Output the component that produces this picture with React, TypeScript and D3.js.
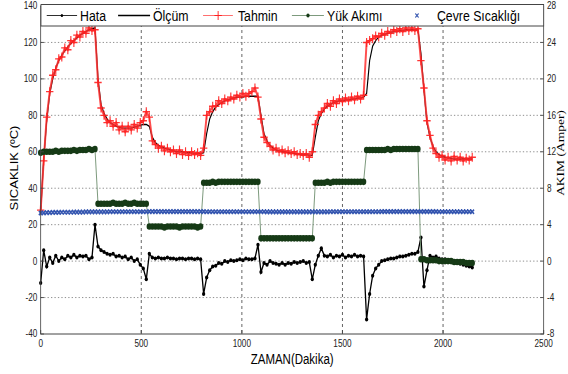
import React from 'react';
import * as d3 from 'd3';

// sampled every 15 min (Dakika)
const TIME = [
  0, 15, 30, 45, 60, 75, 90, 105, 120, 135,
  150, 165, 180, 195, 210, 225, 240, 255, 270, 285,
  300, 315, 330, 345, 360, 375, 390, 405, 420, 435,
  450, 465, 480, 495, 510, 525, 540, 555, 570, 585,
  600, 615, 630, 645, 660, 675, 690, 705, 720, 735,
  750, 765, 780, 795, 810, 825, 840, 855, 870, 885,
  900, 915, 930, 945, 960, 975, 990, 1005, 1020, 1035,
  1050, 1065, 1080, 1095, 1110, 1125, 1140, 1155, 1170, 1185,
  1200, 1215, 1230, 1245, 1260, 1275, 1290, 1305, 1320, 1335,
  1350, 1365, 1380, 1395, 1410, 1425, 1440, 1455, 1470, 1485,
  1500, 1515, 1530, 1545, 1560, 1575, 1590, 1605, 1620, 1635,
  1650, 1665, 1680, 1695, 1710, 1725, 1740, 1755, 1770, 1785,
  1800, 1815, 1830, 1845, 1860, 1875, 1890, 1905, 1920, 1935,
  1950, 1965, 1980, 1995, 2010, 2025, 2040, 2055, 2070, 2085,
  2100, 2115, 2130, 2145,
];

const OLCUM = [
  27, 56, 77, 92, 100, 106, 110, 113, 115.5, 117.5,
  119.5, 121, 122.5, 124, 125, 126, 127, 127.5, 128, 100,
  86, 81, 78, 76, 75, 74, 73.5, 73, 73, 73,
  73, 73.5, 74, 74.5, 75, 75, 74, 68, 65, 63.5,
  62.5, 62, 61.5, 61, 60.5, 60, 60, 60, 59.5, 59.5,
  59.5, 59, 59, 59, 59.5, 70, 78, 82, 84.5, 86,
  87, 88, 88.5, 89, 89.5, 90, 90, 90, 90.5, 90.5,
  90.5, 90.5, 90.5, 80, 70, 66, 63.5, 62, 61, 60.5,
  60, 60, 59.5, 59.5, 59, 59, 58.5, 58.5, 58.5, 58,
  58, 68, 77, 81, 83.5, 85, 86, 87, 87.5, 88,
  88, 88.5, 88.5, 89, 89, 89.5, 89.5, 90, 92, 110,
  118, 121, 123, 124, 124.5, 125, 125.5, 126, 126, 126.5,
  126.5, 127, 127, 127, 127, 127, 114, 94, 76, 68,
  63, 60, 58.5, 57.5, 57, 56.5, 56.5, 56, 56, 56,
  56, 56, 56, 56,
];

const TAHMIN = [
  28, 55, 79, 93, 102, 105, 111, 112, 117, 116,
  121, 120, 124, 123, 126, 125, 128, 126.5, 127, 98,
  84, 80, 76, 77, 74, 76, 72, 74, 71, 74,
  72, 75, 73, 76, 77, 82, 79, 66, 64, 62,
  63, 60.5, 62, 60, 61, 59, 61, 58.5, 60, 58,
  60, 58.5, 59.5, 58, 62, 80, 82, 85, 85, 88,
  86.5, 89, 88, 90, 89, 91, 90, 92, 90.5, 92,
  93, 95, 90, 78, 68, 65, 63, 61, 62, 60,
  61, 59.5, 60.5, 59, 60, 58.5, 59, 58, 59, 57,
  60, 75, 80, 82, 84, 86.5, 85, 88, 86.5, 89,
  87.5, 89.5, 88, 90, 88.5, 90.5, 89, 91, 120, 121,
  122, 123.5, 123, 125, 124, 126, 125, 127, 126, 127.5,
  126, 128, 126.5, 128, 126.5, 127.5, 110, 95, 77, 69,
  62, 59, 57, 58, 55.5, 57, 55, 57.5, 55.5, 57,
  55, 56.5, 55.5, 57,
];

const HATA = [
  -12, 6, -3, 2, -1, 3, 0, 2, 1, 3,
  2, 3.5, 2, 3, 2.5, 3, 1, 2, 20, 8,
  6, 5, 4, 3.5, 4, 2.5, 3, 2, 2.5, 1,
  2, 0, 1, -2, -4, -10, 4, 2, 1.5, 2,
  1.5, 1.5, 2, 1.5, 1.5, 1, 1.5, 1.5, 1, 1.5,
  1.5, 1, 1.5, 1, -18, -9, -5, -3, -2.5, -1,
  -1.5, 0, -0.5, 0.5, 0, 0.5, 1, 0.5, 1.5, 1,
  1, 1.5, 9, -6, -1, -2, 0, -1, -1.5, -2,
  -1, -2, -1, -1.5, -0.5, -1, -0.5, 0, -1, -0.5,
  -10, -2, 3, 7, 3, 2.5, 3.5, 2, 3, 2.5,
  3.5, 2, 3, 2.5, 3.5, 2.5, 3, 2.5, -32, -18,
  -8, -4, -2, 0, 0.5, 1, 1.5, 1.5, 2, 2.5,
  2.5, 3, 3.5, 4, 4, 5, 13, -14, -5, 3,
  2, 2.5, 1.5, 1, 1, 0.5, 0, -0.5, -1, -1.5,
  -2, -2.5, -3, -3.5,
];

// Amper, right axis
const AKIM = [
  11.9, 12, 12, 12, 12, 12.1, 12, 12.1, 12.1, 12.1,
  12.1, 12.2, 12.1, 12.2, 12.2, 12.2, 12.3, 12.2, 12.3, 6.3,
  6.3, 6.3, 6.3, 6.3, 6.4, 6.3, 6.3, 6.3, 6.4, 6.3,
  6.3, 6.4, 6.3, 6.3, 6.3, 6.3, 3.8, 3.8, 3.8, 3.8,
  3.8, 3.7, 3.8, 3.8, 3.8, 3.8, 3.7, 3.8, 3.8, 3.8,
  3.8, 3.8, 3.7, 3.8, 8.6, 8.6, 8.6, 8.7, 8.6, 8.7,
  8.7, 8.7, 8.7, 8.7, 8.7, 8.7, 8.7, 8.7, 8.7, 8.7,
  8.7, 8.7, 8.7, 2.5, 2.5, 2.5, 2.5, 2.5, 2.5, 2.5,
  2.5, 2.5, 2.5, 2.5, 2.5, 2.5, 2.5, 2.5, 2.5, 2.5,
  2.5, 8.6, 8.6, 8.6, 8.6, 8.7, 8.6, 8.7, 8.7, 8.7,
  8.7, 8.7, 8.7, 8.7, 8.7, 8.7, 8.7, 8.7, 12.2, 12.2,
  12.2, 12.2, 12.2, 12.2, 12.2, 12.3, 12.2, 12.3, 12.3, 12.3,
  12.3, 12.3, 12.3, 12.3, 12.3, 12.3, 0.2, 0.2, 0.1, 0.1,
  0.1, 0.1, 0, 0, 0, 0, 0, -0.1, -0.1, -0.1,
  -0.1, -0.2, -0.2, -0.2,
];

const CEVRE = [
  26.4, 26.5, 26.6, 26.6, 26.7, 26.7, 26.7, 26.8, 26.8, 26.8,
  26.8, 26.9, 26.9, 26.9, 26.9, 27, 27, 27, 27, 27,
  27, 27, 27, 27.1, 27.1, 27.1, 27.1, 27.1, 27.1, 27.1,
  27.1, 27.1, 27.1, 27.1, 27.1, 27.1, 27.2, 27.2, 27.2, 27.2,
  27.2, 27.2, 27.2, 27.2, 27.2, 27.2, 27.2, 27.2, 27.2, 27.2,
  27.2, 27.2, 27.2, 27.2, 27.2, 27.1, 27.1, 27.1, 27.1, 27.1,
  27.1, 27.1, 27.1, 27.1, 27.1, 27.1, 27.1, 27.1, 27.1, 27.1,
  27.1, 27.1, 27.1, 27.1, 27.1, 27, 27, 27, 27, 27,
  27, 27, 27, 27, 27, 27, 27, 27, 27, 27,
  27, 27, 27, 27, 27, 27, 27.1, 27.1, 27.1, 27.1,
  27.1, 27.1, 27.1, 27.1, 27.1, 27.1, 27.1, 27.1, 27.1, 27.1,
  27.1, 27.1, 27.1, 27.2, 27.2, 27.2, 27.2, 27.2, 27.2, 27.2,
  27.2, 27.2, 27.2, 27.2, 27.2, 27.2, 27.2, 27.2, 27.2, 27.2,
  27.2, 27.2, 27.1, 27.1, 27.1, 27.1, 27.1, 27.1, 27.1, 27.1,
  27.1, 27.1, 27.1, 27.1,
];

const X_TICKS = [0, 500, 1000, 1500, 2000, 2500];
const Y_TICKS = [-40, -20, 0, 20, 40, 60, 80, 100, 120, 140];
const Y2_TICKS = [-8, -4, 0, 4, 8, 12, 16, 20, 24, 28];

const W = 568;
const H = 374;
// the original image is squeezed horizontally; draw wider and let the viewBox squeeze it
const SQUEEZE = 0.82;
const VW = W / SQUEEZE;
const PLOT = { left: 49.6, right: 663, top: 6, bottom: 334 };
const FONT = '"Liberation Sans", Arial, sans-serif';

const RED = '#ff1f1f';
const GREEN = '#163a16';
const GREEN_LINE = '#6f8f6f';
const BLUE = '#3556b0';

const crossPath = (px: number, py: number, s: number) =>
  `M${px - s},${py}h${2 * s}M${px},${py - s}v${2 * s}`;
const xMarkPath = (px: number, py: number, s: number) =>
  `M${px - s},${py - s}l${2 * s},${2 * s}M${px - s},${py + s}l${2 * s},${-2 * s}`;

export default function App() {
  const x = d3.scaleLinear().domain([0, 2500]).range([PLOT.left, PLOT.right]);
  const y = d3.scaleLinear().domain([-40, 140]).range([PLOT.bottom, PLOT.top]);
  const y2 = d3.scaleLinear().domain([-8, 28]).range([PLOT.bottom, PLOT.top]);

  const pts = (vals: number[], sc: d3.ScaleLinear<number, number>) =>
    TIME.map((t, i) => [x(t), sc(vals[i])] as [number, number]);
  const line = d3.line();

  const hataPts = pts(HATA, y);
  const olcumPts = pts(OLCUM, y);
  const tahminPts = pts(TAHMIN, y);
  const akimPts = pts(AKIM, y2);
  const cevrePts = pts(CEVRE, y);

  const legendY = 15.5;

  return (
    <svg
      width={W}
      height={H}
      viewBox={`0 0 ${VW} ${H}`}
      preserveAspectRatio="none"
      style={{ position: 'absolute', left: 0, top: 0 }}
    >
      <rect width={VW} height={H} fill="#fff" />

      {/* Grid */}
      {Y_TICKS.slice(1, -1).map(d => (
        <line key={'gy' + d} x1={PLOT.left} x2={PLOT.right} y1={y(d)} y2={y(d)}
          stroke="#777" strokeWidth={0.9} strokeDasharray="1.6 2.6" />
      ))}
      {X_TICKS.slice(1, -1).map(d => (
        <line key={'gx' + d} x1={x(d)} x2={x(d)} y1={PLOT.top} y2={PLOT.bottom}
          stroke="#555" strokeWidth={1} strokeDasharray="3 3" />
      ))}

      {/* Hata */}
      <path d={line(hataPts) ?? ''} fill="none" stroke="#000" strokeWidth={1.6} />
      {hataPts.map(([px, py], i) => (
        <circle key={'h' + i} cx={px} cy={py} r={2} fill="#000" />
      ))}

      {/* Ölçüm */}
      <path d={line(olcumPts) ?? ''} fill="none" stroke="#000" strokeWidth={1.4} />

      {/* Tahmin */}
      <path d={line(tahminPts) ?? ''} fill="none" stroke="#ff3030" strokeWidth={2.4} opacity={0.85} />
      <path d={tahminPts.map(([px, py]) => crossPath(px, py, 4.5)).join('')}
        fill="none" stroke={RED} strokeWidth={1.4} opacity={0.9} />

      {/* Yük Akımı */}
      <path d={line(akimPts) ?? ''} fill="none" stroke={GREEN_LINE} strokeWidth={1} />
      {akimPts.map(([px, py], i) => (
        <circle key={'a' + i} cx={px} cy={py} r={3.3} fill={GREEN} />
      ))}

      {/* Çevre Sıcaklığı */}
      <path d={cevrePts.map(([px, py]) => xMarkPath(px, py, 2.2)).join('')}
        fill="none" stroke={BLUE} strokeWidth={1.8} />

      {/* Frame + ticks */}
      <rect x={PLOT.left} y={PLOT.top} width={PLOT.right - PLOT.left} height={PLOT.bottom - PLOT.top}
        fill="none" stroke="#444" strokeWidth={1} />
      {Y_TICKS.map(d => (
        <g key={'ty' + d}>
          <line x1={PLOT.left} x2={PLOT.left + 4} y1={y(d)} y2={y(d)} stroke="#444" />
          <text x={PLOT.left - 4} y={y(d)} dy="0.35em" textAnchor="end"
            fontFamily={FONT} fontSize={10} fill="#222">{d}</text>
        </g>
      ))}
      {Y2_TICKS.map(d => (
        <g key={'ty2' + d}>
          <line x1={PLOT.right - 4} x2={PLOT.right} y1={y2(d)} y2={y2(d)} stroke="#444" />
          <text x={PLOT.right + 4} y={y2(d)} dy="0.35em" textAnchor="start"
            fontFamily={FONT} fontSize={10} fill="#222">{d}</text>
        </g>
      ))}
      {X_TICKS.map(d => (
        <g key={'tx' + d}>
          <line x1={x(d)} x2={x(d)} y1={PLOT.bottom - 4} y2={PLOT.bottom} stroke="#444" />
          <text x={x(d)} y={347} textAnchor="middle"
            fontFamily={FONT} fontSize={10} fill="#222">{d}</text>
        </g>
      ))}

      {/* Axis labels */}
      <text x={PLOT.left + (PLOT.right - PLOT.left) / 2} y={364} textAnchor="middle"
        fontFamily={FONT} fontSize={14} fill="#000">ZAMAN(Dakika)</text>
      <text transform={`translate(17.5,168) rotate(-90)`} dy="0.35em" textAnchor="middle"
        fontFamily={FONT} fontSize={13} fill="#000">SICAKLIK (ºC)</text>
      <text transform={`translate(683,153) rotate(-90)`} dy="0.35em" textAnchor="middle"
        fontFamily='"Liberation Serif", "Times New Roman", serif' fontSize={13.5} fill="#000">AKIM (Amper)</text>

      {/* Legend */}
      <rect x={50} y={4.5} width={613} height={21.5} fill="#fff" stroke="#444" strokeWidth={1} />
      <g fontFamily={FONT} fontSize={15} fill="#000">
        <line x1={57} x2={94} y1={legendY} y2={legendY} stroke="#000" strokeWidth={0.9} />
        <circle cx={75.5} cy={legendY} r={1.5} fill="#000" />
        <text x={97.6} y={20.7}>Hata</text>

        <line x1={144} x2={183} y1={legendY} y2={legendY} stroke="#000" strokeWidth={1.4} />
        <text x={186.6} y={20.7}>Ölçüm</text>

        <line x1={247.6} x2={284} y1={legendY} y2={legendY} stroke="#ff6060" strokeWidth={1} />
        <path d={crossPath(266, legendY, 4.5)} stroke={RED} strokeWidth={1.1} />
        <text x={290.2} y={20.7}>Tahmin</text>

        <line x1={356} x2={395} y1={legendY} y2={legendY} stroke={GREEN_LINE} strokeWidth={1} />
        <circle cx={375.6} cy={legendY} r={2} fill={GREEN} />
        <text x={398.8} y={20.7}>Yük Akımı</text>

        <path d={xMarkPath(508.5, legendY, 2)} stroke={BLUE} strokeWidth={1.1} />
        <text x={532.9} y={20.7}>Çevre Sıcaklığı</text>
      </g>
    </svg>
  );
}
